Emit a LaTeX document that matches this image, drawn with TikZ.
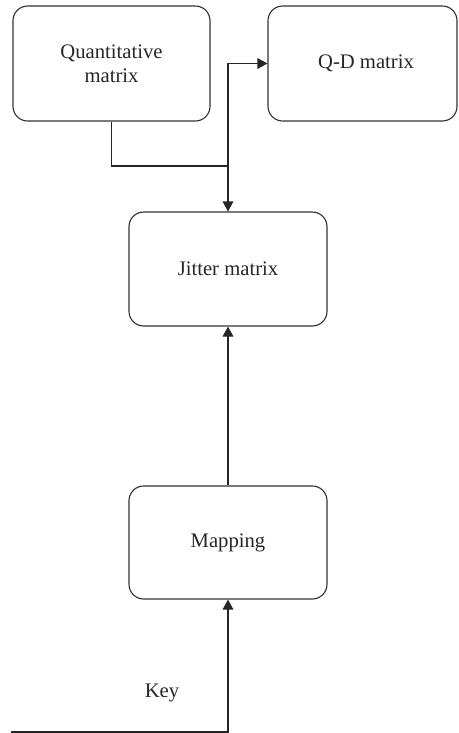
\documentclass[tikz,border=0pt]{standalone}
\usepackage{fontspec}
\setmainfont{Liberation Serif}
\usetikzlibrary{arrows.meta}
\begin{document}
\begin{tikzpicture}[x=0.75pt,y=-0.75pt,
  lbl/.style={font=\fontsize{15.5}{18}\selectfont, text=black!85},
  box/.style={draw=black!80, line width=0.85pt, rounded corners=11pt, align=center,
    lbl, inner sep=0pt},
  conn/.style={draw=black!85, line width=0.85pt},
  arr/.style={conn, -{Triangle[length=7.5pt,width=8pt]}}]
\useasboundingbox (0,0) rectangle (458,733);
\node[box, minimum width=147.75pt, minimum height=86.25pt] (quant) at (111.5,63.5) {Quantitative\\matrix};
\node[box, minimum width=141.75pt, minimum height=86.25pt] (qd) at (362.5,63.5) {};
\node[lbl] (qdt) at (366,63) {Q-D matrix};
\node[box, minimum width=148.5pt, minimum height=85.5pt] (jitter) at (228,269) {Jitter matrix};
\node[box, minimum width=148.5pt, minimum height=84.75pt] (mapping) at (228,542.5) {Mapping};
\coordinate (j) at (228,166);
\coordinate (kstart) at (11,732);
\coordinate (kcorner) at (228,732);
\draw[conn] (quant.south) |- (j);
\draw[arr] (j) -- (jitter.north);
\draw[arr] (j) |- (qd.west);
\draw[arr] (mapping.north) -- (jitter.south);
\draw[arr] (kstart) -- (kcorner) -- (mapping.south);
\node[lbl] (key) at (162,693) {Key};
\end{tikzpicture}
\end{document}
